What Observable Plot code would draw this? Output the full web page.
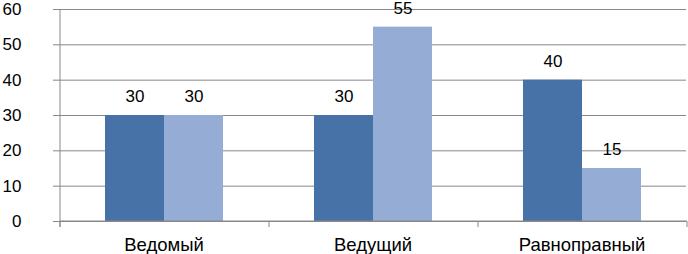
<!DOCTYPE html>
<html>
<head>
<meta charset="utf-8">
<script src="https://cdn.jsdelivr.net/npm/d3@7"></script>
<script src="https://cdn.jsdelivr.net/npm/@observablehq/plot@0.6"></script>
<style>
  html, body { margin: 0; padding: 0; background: #fff; }
  #chart svg { overflow: visible; }
</style>
</head>
<body>
<div id="chart"></div>
<script>
const categories = ["Ведомый", "Ведущий", "Равноправный"];
const seriesNames = ["Ряд 1", "Ряд 2"];
const series1 = [30, 30, 40];
const series2 = [30, 55, 15];
const yTicks = [0, 10, 20, 30, 40, 50, 60];
const colors = ["#4672A7", "#95ACD4"];

const data = [];
categories.forEach((c, i) => {
  data.push({cat: c, series: seriesNames[0], value: series1[i]});
  data.push({cat: c, series: seriesNames[1], value: series2[i]});
});

const gridColor = "#888888";

// category boundary ticks + left axis line, drawn from Plot's own scales (once only)
let frameDrawn = false;
function frameTicks(index, scales, values, dimensions) {
  const g = d3.create("svg:g");
  if (frameDrawn) return g.node();
  frameDrawn = true;
  let fx = scales.fx;
  const y = scales.y;
  const {width, marginLeft, marginRight} = dimensions;
  let starts, bw;
  if (fx && typeof fx === "function") {
    bw = typeof fx.bandwidth === "function" ? fx.bandwidth() : (scales.scales && scales.scales.fx ? scales.scales.fx.bandwidth : null);
    starts = categories.map(c => fx(c));
  }
  if (!starts || bw == null || starts.some(v => v == null || isNaN(v))) {
    const s = d3.scaleBand(categories, [marginLeft, width - marginRight]);
    starts = categories.map(c => s(c));
    bw = s.bandwidth();
  }
  const bounds = [...starts, starts[starts.length - 1] + bw];
  const y0 = y(0);
  const yTop = y(d3.max(yTicks));
  g.append("line")
    .attr("x1", bounds[0]).attr("x2", bounds[0])
    .attr("y1", yTop).attr("y2", y0 + 6)
    .attr("stroke", gridColor);
  g.append("line")
    .attr("x1", bounds[0]).attr("x2", bounds[bounds.length - 1])
    .attr("y1", y0).attr("y2", y0)
    .attr("stroke", gridColor);
  for (const b of bounds) {
    g.append("line")
      .attr("x1", b).attr("x2", b)
      .attr("y1", y0).attr("y2", y0 + 6)
      .attr("stroke", gridColor);
  }
  return g.node();
}

const chart = Plot.plot({
  width: 688,
  height: 254,
  marginLeft: 58,
  marginRight: 2,
  marginTop: 9,
  marginBottom: 33,
  style: {fontFamily: "'Liberation Sans', Arial, sans-serif", fontSize: "17px", color: "#000", background: "#fff"},
  fx: {domain: categories, padding: 0, label: null, axis: null},
  x: {domain: seriesNames, axis: null, paddingInner: 0, paddingOuter: 0.76},
  y: {domain: [0, 60], axis: null},
  color: {domain: seriesNames, range: colors},
  marks: [
    Plot.gridY(yTicks, {stroke: gridColor, strokeOpacity: 1}),
    Plot.axisY(yTicks, {anchor: "left", tickSize: 6, tickPadding: 32, stroke: gridColor, fill: "#000", fontSize: 17, label: null}),
    Plot.axisFx({anchor: "bottom", tickSize: 0, tickPadding: 16, fill: "#000", fontSize: 18.5, label: null, style: {letterSpacing: "0.3px"}}),
    Plot.barY(data, {fx: "cat", x: "series", y: "value", fill: "series"}),
    Plot.text(data, {fx: "cat", x: "series", y: "value", text: d => String(d.value), dy: -19, fontSize: 17, fill: "#000"}),
    frameTicks
  ]
});
document.getElementById("chart").appendChild(chart);
</script>
</body>
</html>
